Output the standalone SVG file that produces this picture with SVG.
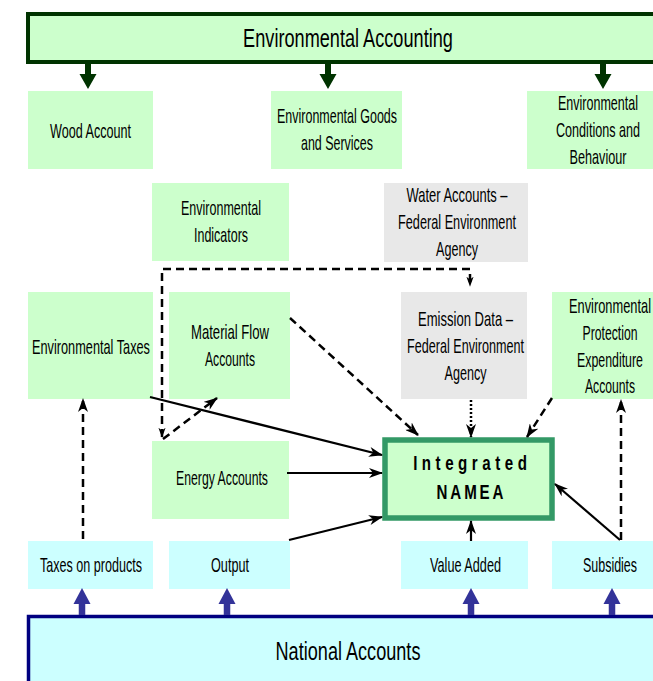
<svg xmlns="http://www.w3.org/2000/svg" width="653" height="681" viewBox="0 0 653 681">
<style>
text{font-family:"Liberation Sans",Arial,sans-serif;fill:#000;}
.t{font-size:20px;text-anchor:middle;}
.big{font-size:26px;text-anchor:middle;}
.b{font-size:21px;font-weight:bold;text-anchor:middle;}
.g{fill:#ccffcc;}
.gr{fill:#e8e8e8;}
.c{fill:#ccffff;}
.ln{fill:none;stroke:#000;stroke-width:2.2;}
.ds{fill:none;stroke:#000;stroke-width:2.5;stroke-dasharray:8 5;}
.dt{fill:none;stroke:#000;stroke-width:2.5;stroke-dasharray:2 2;}
.ga{fill:#003300;}
.ba{fill:#333399;}
</style>
<defs>
<marker id="ah" viewBox="0 0 14 10" markerWidth="14" markerHeight="10" refX="13" refY="5" orient="auto" markerUnits="userSpaceOnUse"><path d="M0,0 L14,5 L0,10 L4,5 z" fill="#000"/></marker>
<marker id="sm" viewBox="0 0 14 10" markerWidth="10" markerHeight="8" refX="13" refY="5" orient="auto-start-reverse" markerUnits="userSpaceOnUse"><path d="M0,0 L14,5 L0,10 L4,5 z" fill="#000"/></marker>
<path id="dn" d="M-3,0 V11 H-8.5 L0,26 L8.5,11 H3 V0 Z"/>
<path id="up" d="M-3.25,0 V-11 H-8.5 L0,-27 L8.5,-11 H3.25 V0 Z"/>
</defs>

<g id="environmental-accounting">
<rect x="28" y="14" width="660" height="48" fill="#ccffcc" stroke="#003300" stroke-width="4"/>
<text class="big" transform="translate(348,47) scale(0.69,1)" textLength="304" lengthAdjust="spacingAndGlyphs">Environmental Accounting</text>
</g>
<g id="top-arrows">
<use href="#dn" x="88" y="63" class="ga"/>
<use href="#dn" x="328" y="63" class="ga"/>
<use href="#dn" x="603" y="63" class="ga"/>
</g>

<g id="wood-account">
<rect class="g" x="28" y="91" width="125" height="78"/>
<text class="t" transform="translate(90.5,138) scale(0.65,1)" textLength="124.6" lengthAdjust="spacingAndGlyphs">Wood Account</text>
</g>
<g id="goods-services">
<rect class="g" x="271" y="91" width="131" height="78"/>
<text class="t" transform="translate(337,123) scale(0.65,1)" textLength="184.6" lengthAdjust="spacingAndGlyphs">Environmental Goods</text>
<text class="t" transform="translate(337,150) scale(0.65,1)" textLength="110.8" lengthAdjust="spacingAndGlyphs">and Services</text>
</g>
<g id="conditions-behaviour">
<rect class="g" x="527" y="91" width="126" height="78"/>
<text class="t" transform="translate(598,110) scale(0.65,1)" textLength="123.1" lengthAdjust="spacingAndGlyphs">Environmental</text>
<text class="t" transform="translate(598,137) scale(0.65,1)" textLength="129.2" lengthAdjust="spacingAndGlyphs">Conditions and</text>
<text class="t" transform="translate(598,164) scale(0.65,1)" textLength="87.7" lengthAdjust="spacingAndGlyphs">Behaviour</text>
</g>
<g id="env-indicators">
<rect class="g" x="152" y="183" width="137" height="78"/>
<text class="t" transform="translate(221,215) scale(0.65,1)" textLength="123.1" lengthAdjust="spacingAndGlyphs">Environmental</text>
<text class="t" transform="translate(221,242) scale(0.65,1)" textLength="83.1" lengthAdjust="spacingAndGlyphs">Indicators</text>
</g>
<g id="water-accounts">
<rect class="gr" x="384" y="183" width="144" height="79"/>
<text class="t" transform="translate(457,202) scale(0.65,1)" textLength="155.4" lengthAdjust="spacingAndGlyphs">Water Accounts –</text>
<text class="t" transform="translate(457,229) scale(0.65,1)" textLength="181.5" lengthAdjust="spacingAndGlyphs">Federal Environment</text>
<text class="t" transform="translate(457,256) scale(0.65,1)" textLength="64.6" lengthAdjust="spacingAndGlyphs">Agency</text>
</g>
<g id="env-taxes">
<rect class="g" x="28" y="292" width="125" height="107"/>
<text class="t" transform="translate(91,354) scale(0.65,1)" textLength="181.5" lengthAdjust="spacingAndGlyphs">Environmental Taxes</text>
</g>
<g id="material-flow">
<rect class="g" x="169" y="292" width="121" height="107"/>
<text class="t" transform="translate(230,339) scale(0.65,1)" textLength="120" lengthAdjust="spacingAndGlyphs">Material Flow</text>
<text class="t" transform="translate(230,366) scale(0.65,1)" textLength="76.9" lengthAdjust="spacingAndGlyphs">Accounts</text>
</g>
<g id="emission-data">
<rect class="gr" x="401" y="292" width="126" height="107"/>
<text class="t" transform="translate(465.5,326) scale(0.65,1)" textLength="146.2" lengthAdjust="spacingAndGlyphs">Emission Data –</text>
<text class="t" transform="translate(465.5,353) scale(0.65,1)" textLength="180" lengthAdjust="spacingAndGlyphs">Federal Environment</text>
<text class="t" transform="translate(465.5,380) scale(0.65,1)" textLength="64.6" lengthAdjust="spacingAndGlyphs">Agency</text>
</g>
<g id="env-protection">
<rect class="g" x="552" y="292" width="101" height="107"/>
<text class="t" transform="translate(610,313) scale(0.65,1)" textLength="126.2" lengthAdjust="spacingAndGlyphs">Environmental</text>
<text class="t" transform="translate(610,340) scale(0.65,1)" textLength="84.6" lengthAdjust="spacingAndGlyphs">Protection</text>
<text class="t" transform="translate(610,367) scale(0.65,1)" textLength="101.5" lengthAdjust="spacingAndGlyphs">Expenditure</text>
<text class="t" transform="translate(610,393) scale(0.65,1)" textLength="76.9" lengthAdjust="spacingAndGlyphs">Accounts</text>
</g>
<g id="energy-accounts">
<rect class="g" x="152" y="441" width="137" height="78"/>
<text class="t" transform="translate(222,485) scale(0.65,1)" textLength="141.5" lengthAdjust="spacingAndGlyphs">Energy Accounts</text>
</g>
<g id="integrated-namea">
<rect x="385" y="440" width="167" height="78" fill="#ccffcc" stroke="#339966" stroke-width="5.5"/>
<text class="b" transform="translate(470,470) scale(0.72,1)" textLength="158" lengthAdjust="spacing">Integrated</text>
<text class="b" transform="translate(470,499) scale(0.72,1)" textLength="93" lengthAdjust="spacing">NAMEA</text>
</g>
<g id="taxes-on-products">
<rect class="c" x="28" y="541" width="125" height="48"/>
<text class="t" transform="translate(91,572) scale(0.65,1)" textLength="156.9" lengthAdjust="spacingAndGlyphs">Taxes on products</text>
</g>
<g id="output">
<rect class="c" x="169" y="541" width="121" height="48"/>
<text class="t" transform="translate(230,572) scale(0.65,1)" textLength="58.5" lengthAdjust="spacingAndGlyphs">Output</text>
</g>
<g id="value-added">
<rect class="c" x="401" y="541" width="127" height="48"/>
<text class="t" transform="translate(465.5,572) scale(0.65,1)" textLength="109.2" lengthAdjust="spacingAndGlyphs">Value Added</text>
</g>
<g id="subsidies">
<rect class="c" x="552" y="541" width="101" height="48"/>
<text class="t" transform="translate(610,572) scale(0.65,1)" textLength="83.1" lengthAdjust="spacingAndGlyphs">Subsidies</text>
</g>
<g id="national-accounts">
<rect x="28.5" y="616.5" width="660" height="90" fill="#ccffff" stroke="#000080" stroke-width="3.5"/>
<text class="big" transform="translate(348,660) scale(0.69,1)" textLength="210" lengthAdjust="spacingAndGlyphs">National Accounts</text>
</g>
<g id="bottom-arrows">
<use href="#up" x="82" y="615" class="ba"/>
<use href="#up" x="227" y="615" class="ba"/>
<use href="#up" x="471" y="615" class="ba"/>
<use href="#up" x="612" y="615" class="ba"/>
</g>

<g id="connectors">
<path class="ln" d="M150,397 L382,455" marker-end="url(#ah)"/>
<path class="ln" d="M287,473 L382,473" marker-end="url(#ah)"/>
<path class="ln" d="M289,540 L382,517" marker-end="url(#ah)"/>
<path class="ln" d="M471,541 L471,521" marker-end="url(#ah)"/>
<path class="ln" d="M620,540 L555,484" marker-end="url(#ah)"/>
<path class="ds" d="M621,540 V400" marker-end="url(#ah)"/>
<path class="ds" d="M83,539 V399" marker-end="url(#ah)"/>
<path class="ds" d="M290,318 L418,435" marker-end="url(#ah)"/>
<path class="dt" d="M471,400 V437" marker-end="url(#ah)"/>
<path class="ds" d="M552,398 L527,437" marker-end="url(#ah)"/>
<path class="ds" d="M162,437 V269 H470 V286" marker-start="url(#sm)" marker-end="url(#sm)"/>
<path class="ds" d="M163,439 L217,398" marker-end="url(#ah)"/>
</g>
</svg>
